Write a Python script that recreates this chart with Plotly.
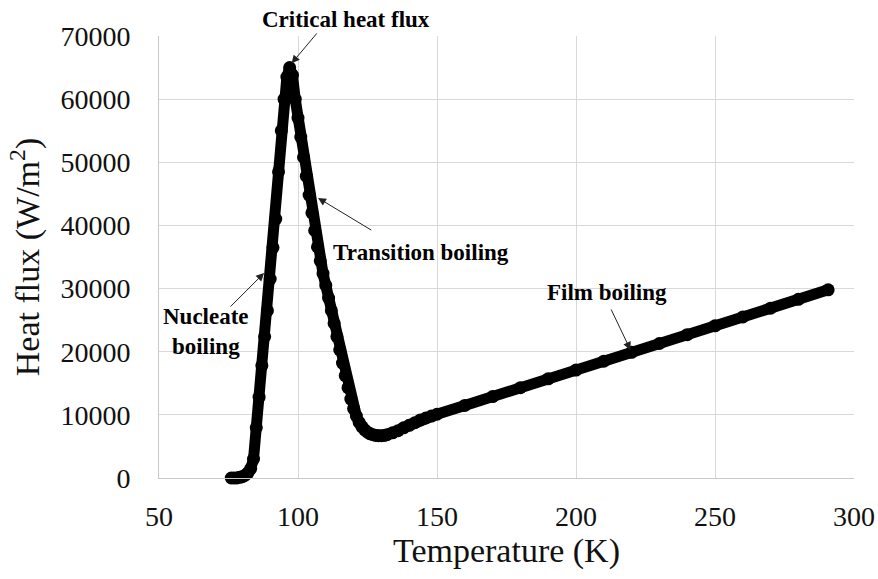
import plotly.graph_objects as go

# Temperature (K)
temperature = [76, 77, 78, 79, 80, 81, 82, 83, 84, 85, 86, 87, 88, 89, 90, 91, 92, 93, 94, 95,
               96, 97, 98, 99, 100, 101, 102, 103, 104, 105, 106, 107, 108, 109, 110, 111, 112,
               113, 114, 115, 116, 117, 118, 119, 120, 121, 122, 123, 124, 125, 126, 127, 128,
               129, 130, 131, 132, 134, 136, 138, 140, 142, 144, 146, 148, 150, 160, 170, 180,
               190, 200, 210, 220, 230, 240, 250, 260, 270, 280, 290.7]
# Heat flux (W/m2)
heat_flux = [0, 0, 0, 100, 200, 450, 800, 1500, 3000, 8000, 12800, 17800, 22400, 26500, 31500,
             36500, 41000, 48500, 55000, 60000, 63500, 65000, 63800, 60000, 57000, 54000, 50800,
             47800, 44800, 42000, 39200, 36600, 34400, 32400, 30500, 28500, 26500, 24500, 22400,
             20300, 18200, 16200, 14300, 12500, 11000, 9800, 8800, 8100, 7600, 7250, 7000, 6850,
             6750, 6700, 6700, 6750, 6850, 7150, 7500, 7950, 8350, 8750, 9200, 9500, 9800, 10100,
             11500, 12900, 14300, 15700, 17100, 18500, 19900, 21300, 22700, 24100, 25500, 26900,
             28300, 29800]

x_ticks = [50, 100, 150, 200, 250, 300]
y_ticks = [0, 10000, 20000, 30000, 40000, 50000, 60000, 70000]
Y_MAX = 70000

# Annotation labels: text, text position, arrow tail, arrow tip (data units)
labels = ["Critical heat flux", "Transition boiling", "Nucleate<br>boiling", "Film boiling"]
label_x = [117.2, 144.2, 67.0, 211.3]
label_y = [72540, 35790, 23280, 29300]
tail_x = [107.2, 126.9, 75.2, 212.4]
tail_y = [70640, 39120, 26920, 26920]
tip_x = [97.7, 107.2, 87.8, 219.6]
tip_y = [65670, 44350, 32470, 20270]

FONT = "Liberation Serif, Times New Roman, serif"

fig = go.Figure()
fig.add_trace(go.Scatter(
    x=temperature, y=heat_flux, mode="lines+markers",
    line=dict(color="black", width=11),
    marker=dict(color="black", size=13),
    showlegend=False, cliponaxis=False,
))

annotations = []
for i in range(len(labels)):
    # labels above the axis range are placed in paper units so they stay visible
    if label_y[i] > Y_MAX:
        yref, yval = "paper", label_y[i] / Y_MAX
    else:
        yref, yval = "y", label_y[i]
    annotations.append(dict(
        x=label_x[i], y=yval, xref="x", yref=yref, text="<b>" + labels[i] + "</b>",
        showarrow=False, font=dict(family=FONT, size=23, color="black"),
        xanchor="center", yanchor="middle",
    ))
    annotations.append(dict(
        x=tip_x[i], y=tip_y[i], ax=tail_x[i], ay=tail_y[i], xref="x", yref="y",
        axref="x", ayref="y", text="", showarrow=True,
        arrowhead=2, arrowsize=1.6, arrowwidth=1, arrowcolor="#222222",
    ))

fig.update_layout(
    width=878, height=579,
    margin=dict(l=159, r=24, t=36, b=101),
    paper_bgcolor="white", plot_bgcolor="white",
    font=dict(family=FONT, color="black"),
    annotations=annotations,
    xaxis=dict(
        range=[50, 300], tickvals=x_ticks, ticktext=[str(v) for v in x_ticks],
        showgrid=True, gridcolor="#d9d9d9", gridwidth=1,
        showline=True, linecolor="#c8c8c8", linewidth=1,
        ticks="outside", ticklen=13, tickcolor="rgba(0,0,0,0)",
        tickfont=dict(family=FONT, size=28, color="#111111"),
        title=dict(text="Temperature (K)", font=dict(family=FONT, size=34, color="#111111"), standoff=3),
        zeroline=False, automargin=False,
    ),
    yaxis=dict(
        range=[0, Y_MAX], tickvals=y_ticks, ticktext=[str(v) for v in y_ticks],
        showgrid=True, gridcolor="#d9d9d9", gridwidth=1,
        showline=True, linecolor="#c8c8c8", linewidth=1,
        ticks="outside", ticklen=22, tickcolor="rgba(0,0,0,0)",
        tickfont=dict(family=FONT, size=28, color="#111111"),
        title=dict(text="Heat flux (W/m<sup>2</sup>)", font=dict(family=FONT, size=34, color="#111111"), standoff=10),
        zeroline=False, automargin=False,
    ),
)

fig.write_html("out.html", config={"displayModeBar": False},
               post_script="document.body.style.margin='0';")
